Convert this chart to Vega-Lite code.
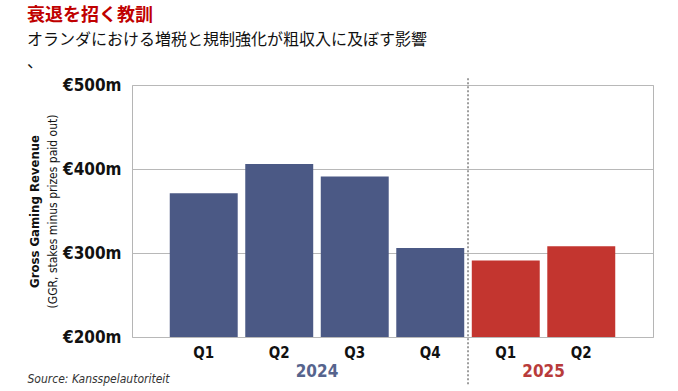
{
  "$schema": "https://vega.github.io/schema/vega-lite/v6.json",
  "width": 521,
  "height": 252,
  "autosize": {"type": "none"},
  "padding": {"left": 132, "top": 85, "right": 25, "bottom": 54},
  "background": "white",
  "title": {
    "text": "衰退を招く教訓",
    "subtitle": ["オランダにおける増税と規制強化が粗収入に及ぼす影響", "、"],
    "anchor": "start",
    "frame": "bounds",
    "font": "Noto Sans CJK JP",
    "fontSize": 18,
    "fontWeight": "bold",
    "color": "#c00000",
    "subtitleFont": "Noto Sans CJK JP",
    "subtitleFontSize": 16,
    "subtitleColor": "#111111",
    "subtitlePadding": 7,
    "subtitleLineHeight": 22,
    "offset": 6
  },
  "config": {"view": {"stroke": "#b5b5b5"}},
  "resolve": {"axis": {"y": "independent"}, "scale": {"color": "independent"}},
  "layer": [
    {
      "data": {"values": [
        {"key": "2024 Q1", "year": "2024", "v": 371},
        {"key": "2024 Q2", "year": "2024", "v": 406},
        {"key": "2024 Q3", "year": "2024", "v": 391},
        {"key": "2024 Q4", "year": "2024", "v": 306},
        {"key": "2025 Q1", "year": "2025", "v": 291},
        {"key": "2025 Q2", "year": "2025", "v": 308}
      ]},
      "mark": {"type": "bar"},
      "encoding": {
        "x": {
          "field": "key", "type": "nominal", "sort": null,
          "scale": {"domain": ["2024 Q1", "2024 Q2", "2024 Q3", "2024 Q4", "2025 Q1", "2025 Q2"], "paddingInner": 0.1, "paddingOuter": 0.5},
          "axis": {
            "labelExpr": "split(datum.label, ' ')[1]",
            "labelAngle": 0,
            "labelFont": "DejaVu Sans Condensed, DejaVu Sans, sans-serif",
            "labelFontSize": 15,
            "labelFontWeight": "bold",
            "labelColor": "#111111",
            "labelPadding": 8,
            "ticks": false,
            "domain": false,
            "title": "Source: Kansspelautoriteit",
            "titleFont": "DejaVu Sans Condensed, DejaVu Sans, sans-serif",
            "titleFontStyle": "italic",
            "titleFontWeight": "normal",
            "titleFontSize": 12,
            "titleColor": "#333333",
            "titleAnchor": "start",
            "titleAlign": "left",
            "titleX": -105,
            "titleY": 45,
            "titleBaseline": "alphabetic"
          }
        },
        "y": {
          "field": "v", "type": "quantitative",
          "scale": {"domain": [200, 500], "zero": false, "nice": false},
          "axis": {
            "values": [200, 300, 400, 500],
            "labelExpr": "'€' + datum.value + 'm'",
            "labelFont": "DejaVu Sans Condensed, DejaVu Sans, sans-serif",
            "labelFontSize": 17,
            "labelFontWeight": "bold",
            "labelColor": "#111111",
            "labelPadding": 11,
            "ticks": false,
            "domain": false,
            "grid": true,
            "gridColor": "#b8b8b8",
            "title": "Gross Gaming Revenue",
            "titleFont": "DejaVu Sans Condensed, DejaVu Sans, sans-serif",
            "titleFontSize": 13,
            "titleFontWeight": "bold",
            "titleColor": "#111111",
            "titleAngle": 270,
            "titleBaseline": "middle",
            "titleAlign": "center",
            "titleX": -98,
            "titleY": 126
          }
        },
        "y2": {"datum": 200},
        "color": {
          "field": "year", "type": "nominal",
          "scale": {"domain": ["2024", "2025"], "range": ["#4b5985", "#c3352f"]},
          "legend": null
        }
      }
    },
    {
      "data": {"values": [{"key": "2024 Q4"}]},
      "mark": {"type": "rule", "strokeDash": [2, 2], "color": "#6a6a6a", "strokeWidth": 1.3},
      "encoding": {
        "x": {"field": "key", "type": "nominal", "bandPosition": 1.0556},
        "y": {
          "datum": 508,
          "type": "quantitative",
          "axis": {
            "orient": "left",
            "labels": false,
            "ticks": false,
            "domain": false,
            "grid": false,
            "title": "(GGR, stakes minus prizes paid out)",
            "titleFont": "DejaVu Sans Condensed, DejaVu Sans, sans-serif",
            "titleFontSize": 12,
            "titleFontWeight": "normal",
            "titleColor": "#111111",
            "titleAngle": 270,
            "titleBaseline": "middle",
            "titleAlign": "center",
            "titleX": -80,
            "titleY": 126
          }
        },
        "y2": {"datum": 143}
      }
    },
    {
      "data": {"values": [{"key": "2024 Q2", "label": "2024"}, {"key": "2025 Q1", "label": "2025"}]},
      "mark": {"type": "text", "font": "DejaVu Sans Condensed, DejaVu Sans, sans-serif", "fontSize": 17, "fontWeight": "bold", "baseline": "middle", "align": "center"},
      "encoding": {
        "x": {"field": "key", "type": "nominal", "bandPosition": 1.0556},
        "y": {"datum": 158, "type": "quantitative", "axis": null},
        "text": {"field": "label"},
        "color": {
          "field": "label", "type": "nominal",
          "scale": {"domain": ["2024", "2025"], "range": ["#56648d", "#b83b3b"]},
          "legend": null
        }
      }
    }
  ]
}
